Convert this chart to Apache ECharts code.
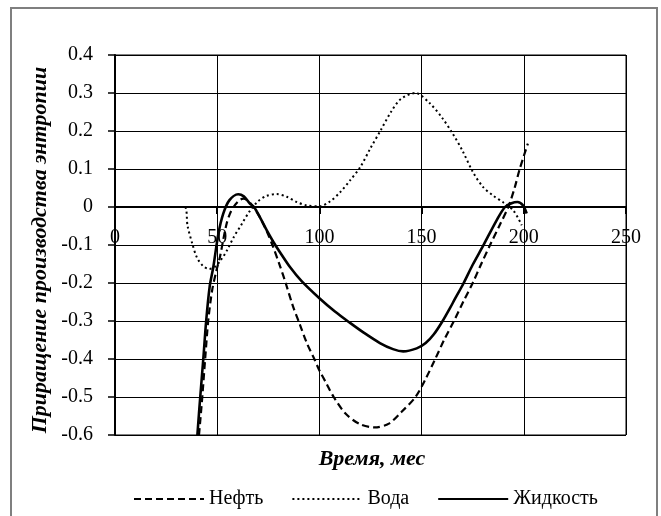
<!DOCTYPE html>
<html>
<head>
<meta charset="utf-8">
<script src="https://cdn.jsdelivr.net/npm/echarts@6/dist/echarts.min.js"></script>
<style>
  html, body { margin: 0; padding: 0; background: #fff; }
  #chart { width: 661px; height: 516px; }
</style>
</head>
<body>
<div id="chart"></div>
<script>
// values
const xTicks = [0, 50, 100, 150, 200, 250]
const yTicks = [-0.6, -0.5, -0.4, -0.3, -0.2, -0.1, 0, 0.1, 0.2, 0.3, 0.4]

const oilX = [41.1, 42.7, 44.1, 45.6, 47.5, 49.5, 51.4, 53, 54.6, 56.2, 58, 60.5, 62.8, 65, 67.7, 71, 74, 77, 80.7, 83.5, 87, 90.5, 94, 97.5, 100, 103.5, 107, 113, 120, 127, 134, 140, 147, 152, 156.5, 161, 166, 170.5, 175, 179, 183.5, 188, 192.4, 195.5, 198, 202]
const oilY = [-0.6, -0.5, -0.4, -0.3, -0.22, -0.17, -0.13, -0.085, -0.044, -0.018, 0, 0.016, 0.022, 0.017, 0, -0.028, -0.061, -0.1, -0.155, -0.2, -0.26, -0.31, -0.36, -0.4, -0.43, -0.465, -0.5, -0.545, -0.572, -0.58, -0.57, -0.54, -0.5, -0.452, -0.402, -0.35, -0.298, -0.248, -0.2, -0.152, -0.1, -0.05, 0, 0.05, 0.1, 0.167]

const waterX = [0, 34, 35.5, 38, 40, 43, 46, 49, 52, 55, 58, 62, 66, 70, 74, 79, 84, 89, 94, 100, 105, 110, 115, 120, 125, 130, 135, 140, 147, 154, 160, 165, 170, 175, 180, 185, 190, 195, 199]
const waterY = [0, 0, -0.05, -0.1, -0.132, -0.155, -0.163, -0.157, -0.138, -0.112, -0.08, -0.045, -0.01, 0.015, 0.029, 0.034, 0.027, 0.013, 0.004, 0.002, 0.014, 0.038, 0.07, 0.105, 0.155, 0.202, 0.25, 0.285, 0.3, 0.273, 0.235, 0.195, 0.148, 0.093, 0.053, 0.03, 0.012, -0.01, -0.048]

const liquidX = [40.3, 41.7, 43.2, 44.6, 46.3, 48.1, 50.6, 53, 56, 60.3, 63, 66, 68, 71, 74.2, 77.5, 80.7, 85.6, 91.3, 100, 107.6, 115, 121.5, 129.6, 136, 141, 147.6, 152, 156, 160.3, 164, 166.3, 170.4, 175, 180.2, 186.7, 190.8, 194, 196.9, 199.5, 201.4]
const liquidY = [-0.6, -0.5, -0.4, -0.3, -0.21, -0.158, -0.07, -0.017, 0.018, 0.0335, 0.028, 0.009, 0, -0.028, -0.061, -0.092, -0.119, -0.158, -0.195, -0.24, -0.275, -0.305, -0.33, -0.358, -0.374, -0.38, -0.372, -0.358, -0.335, -0.3, -0.265, -0.242, -0.202, -0.152, -0.101, -0.035, 0, 0.01, 0.013, 0.005, -0.017]

const seriesNames = ['Нефть', 'Вода', 'Жидкость']

const font = 'Liberation Serif'
const pairs = (xs, ys) => xs.map((x, i) => [x, ys[i]])

let chart = echarts.init(document.getElementById('chart'), null, { renderer: 'canvas' })

let option = {
  backgroundColor: '#fff',
  animation: false,
  textStyle: { fontFamily: font },
  grid: {
    left: 115,
    right: 35,
    top: 55,
    bottom: 81,
    show: true,
    borderColor: '#000',
    borderWidth: 1
  },
  xAxis: {
    type: 'value',
    min: xTicks[0],
    max: xTicks[xTicks.length - 1],
    interval: 50,
    position: 'bottom',
    offset: -228,
    axisLine: { onZero: false, lineStyle: { color: '#000', width: 2 } },
    axisTick: { show: true, length: 7, lineStyle: { color: '#000', width: 2 } },
    axisLabel: { margin: 21, color: '#000', fontSize: 20, fontFamily: font },
    splitLine: { show: true, lineStyle: { color: '#000', width: 1 } }
  },
  yAxis: {
    type: 'value',
    min: yTicks[0],
    max: yTicks[yTicks.length - 1],
    interval: 0.1,
    axisLine: { show: true, onZero: false, lineStyle: { color: '#000', width: 2 } },
    axisTick: { show: true, length: 7, lineStyle: { color: '#000', width: 1.5 } },
    axisLabel: {
      margin: 22,
      color: '#000',
      fontSize: 20,
      fontFamily: font,
      formatter: v => String(+v.toFixed(1))
    },
    splitLine: { show: true, lineStyle: { color: '#000', width: 1 } }
  },
  legend: {
    data: seriesNames,
    left: 128,
    top: 484,
    itemWidth: 70,
    itemHeight: 12,
    itemGap: 28,
    itemStyle: { color: 'transparent', borderWidth: 0 },
    textStyle: { fontSize: 20, color: '#000', fontFamily: font }
  },
  graphic: [
    {
      type: 'rect',
      shape: { x: 11, y: 8, width: 646, height: 530 },
      style: { fill: 'none', stroke: '#7f7f7f', lineWidth: 2 },
      silent: true
    },
    {
      type: 'text',
      x: 372,
      y: 459,
      style: {
        text: 'Время, мес',
        font: 'italic bold 22px "Liberation Serif"',
        fill: '#000',
        align: 'center',
        verticalAlign: 'middle'
      }
    },
    {
      type: 'text',
      x: 40,
      y: 250,
      rotation: Math.PI / 2,
      style: {
        text: 'Приращение производства энтропии',
        font: 'italic bold 22px "Liberation Serif"',
        fill: '#000',
        align: 'center',
        verticalAlign: 'middle'
      }
    }
  ],
  series: [
    {
      name: seriesNames[0],
      type: 'line',
      data: pairs(oilX, oilY),
      smooth: 0.3,
      symbol: 'none',
      color: '#000',
      lineStyle: { color: '#000', width: 2.2, type: [7, 4] }
    },
    {
      name: seriesNames[1],
      type: 'line',
      data: pairs(waterX, waterY),
      smooth: 0.3,
      symbol: 'none',
      color: '#000',
      lineStyle: { color: '#000', width: 2, type: [2, 3] }
    },
    {
      name: seriesNames[2],
      type: 'line',
      data: pairs(liquidX, liquidY),
      smooth: 0.3,
      symbol: 'none',
      color: '#000',
      lineStyle: { color: '#000', width: 2.6 }
    }
  ]
}

chart.setOption(option)
</script>
</body>
</html>
